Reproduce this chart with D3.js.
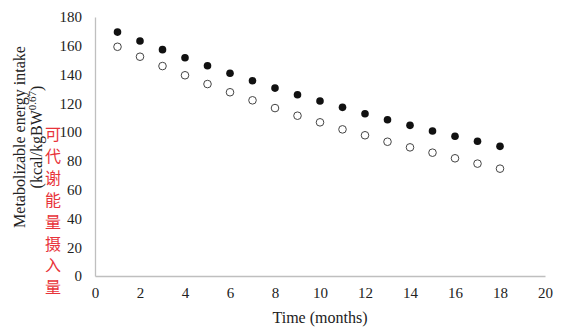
<!DOCTYPE html>
<html>
<head>
<meta charset="utf-8">
<script src="https://cdn.jsdelivr.net/npm/d3@7/dist/d3.min.js"></script>
<style>
  html, body { margin: 0; padding: 0; background: #fff; }
  svg { display: block; }
  text { font-family: "Liberation Serif", "Times New Roman", serif; }
</style>
</head>
<body>
<svg id="chart" width="574" height="333"></svg>
<script>
// Monthly metabolizable energy intake, two groups
const months = [1, 2, 3, 4, 5, 6, 7, 8, 9, 10, 11, 12, 13, 14, 15, 16, 17, 18];
const filledSeries = [169.5, 163.3, 157.3, 151.7, 146.1, 140.9, 135.7, 130.6, 126.0,
                      121.6, 117.2, 112.8, 108.6, 104.7, 100.8, 97.1, 93.6, 90.1];
const openSeries = [159.3, 152.4, 145.9, 139.5, 133.4, 127.7, 122.1, 116.7, 111.4,
                    106.8, 101.9, 97.8, 93.3, 89.4, 85.7, 81.8, 78.1, 74.6];
const xTicks = [0, 2, 4, 6, 8, 10, 12, 14, 16, 18, 20];
const yTicks = [0, 20, 40, 60, 80, 100, 120, 140, 160, 180];
const cnLabel = "可代谢能量摄入量";

const svg = d3.select("#chart");
const plot = { left: 95, right: 545, top: 17, bottom: 276 };
const ink = "#222";

const x = d3.scaleLinear().domain([0, 20]).range([plot.left, plot.right]);
const y = d3.scaleLinear().domain([0, 180]).range([plot.bottom, plot.top]);

// Axes: light gray lines, no tick marks
const xAxis = svg.append("g").attr("transform", `translate(0,${plot.bottom})`)
  .call(d3.axisBottom(x).tickValues(xTicks).tickSize(0).tickPadding(11));
const yAxis = svg.append("g").attr("transform", `translate(${plot.left},0)`)
  .call(d3.axisLeft(y).tickValues(yTicks).tickSize(0).tickPadding(13));

[xAxis, yAxis].forEach(g => {
  g.select(".domain").attr("stroke", "#bfbfbf").attr("stroke-width", 1.3);
  g.selectAll("text")
    .style("font-family", '"Liberation Serif", "Times New Roman", serif')
    .style("font-size", "15px").style("fill", ink);
});

// Points
svg.append("g").selectAll("circle").data(months)
  .join("circle")
  .attr("cx", d => x(d))
  .attr("cy", (d, i) => y(openSeries[i]))
  .attr("r", 3.8)
  .attr("fill", "#fff")
  .attr("stroke", "#444")
  .attr("stroke-width", 1);

svg.append("g").selectAll("circle").data(months)
  .join("circle")
  .attr("cx", d => x(d))
  .attr("cy", (d, i) => y(filledSeries[i]))
  .attr("r", 3.8)
  .attr("fill", "#111");

// X axis title
svg.append("text")
  .attr("x", 320).attr("y", 323)
  .attr("text-anchor", "middle")
  .style("font-size", "16px")
  .style("fill", ink)
  .text("Time (months)");

// Y axis title, two rotated lines
const yTitle = svg.append("text")
  .attr("transform", "translate(25,137) rotate(-90)")
  .attr("text-anchor", "middle")
  .style("font-size", "16px")
  .style("fill", ink);
yTitle.append("tspan").attr("x", 0).attr("dy", 0).text("Metabolizable energy intake");
const line2 = yTitle.append("tspan").attr("x", 0).attr("dy", 17);
line2.append("tspan").text("(kcal/kgBW");
line2.append("tspan").attr("dy", -6).style("font-size", "11px").text("0.67");
line2.append("tspan").attr("dy", 6).text(")");

// Chinese label set vertically, one column of glyphs
svg.append("text")
  .attr("x", 53)
  .attr("y", 126)
  .style("writing-mode", "vertical-rl")
  .style("font-family", '"Noto Sans CJK SC", sans-serif')
  .style("font-size", "16px")
  .style("letter-spacing", "5.9px")
  .style("fill", "#e8333a")
  .text(cnLabel);
</script>
</body>
</html>
